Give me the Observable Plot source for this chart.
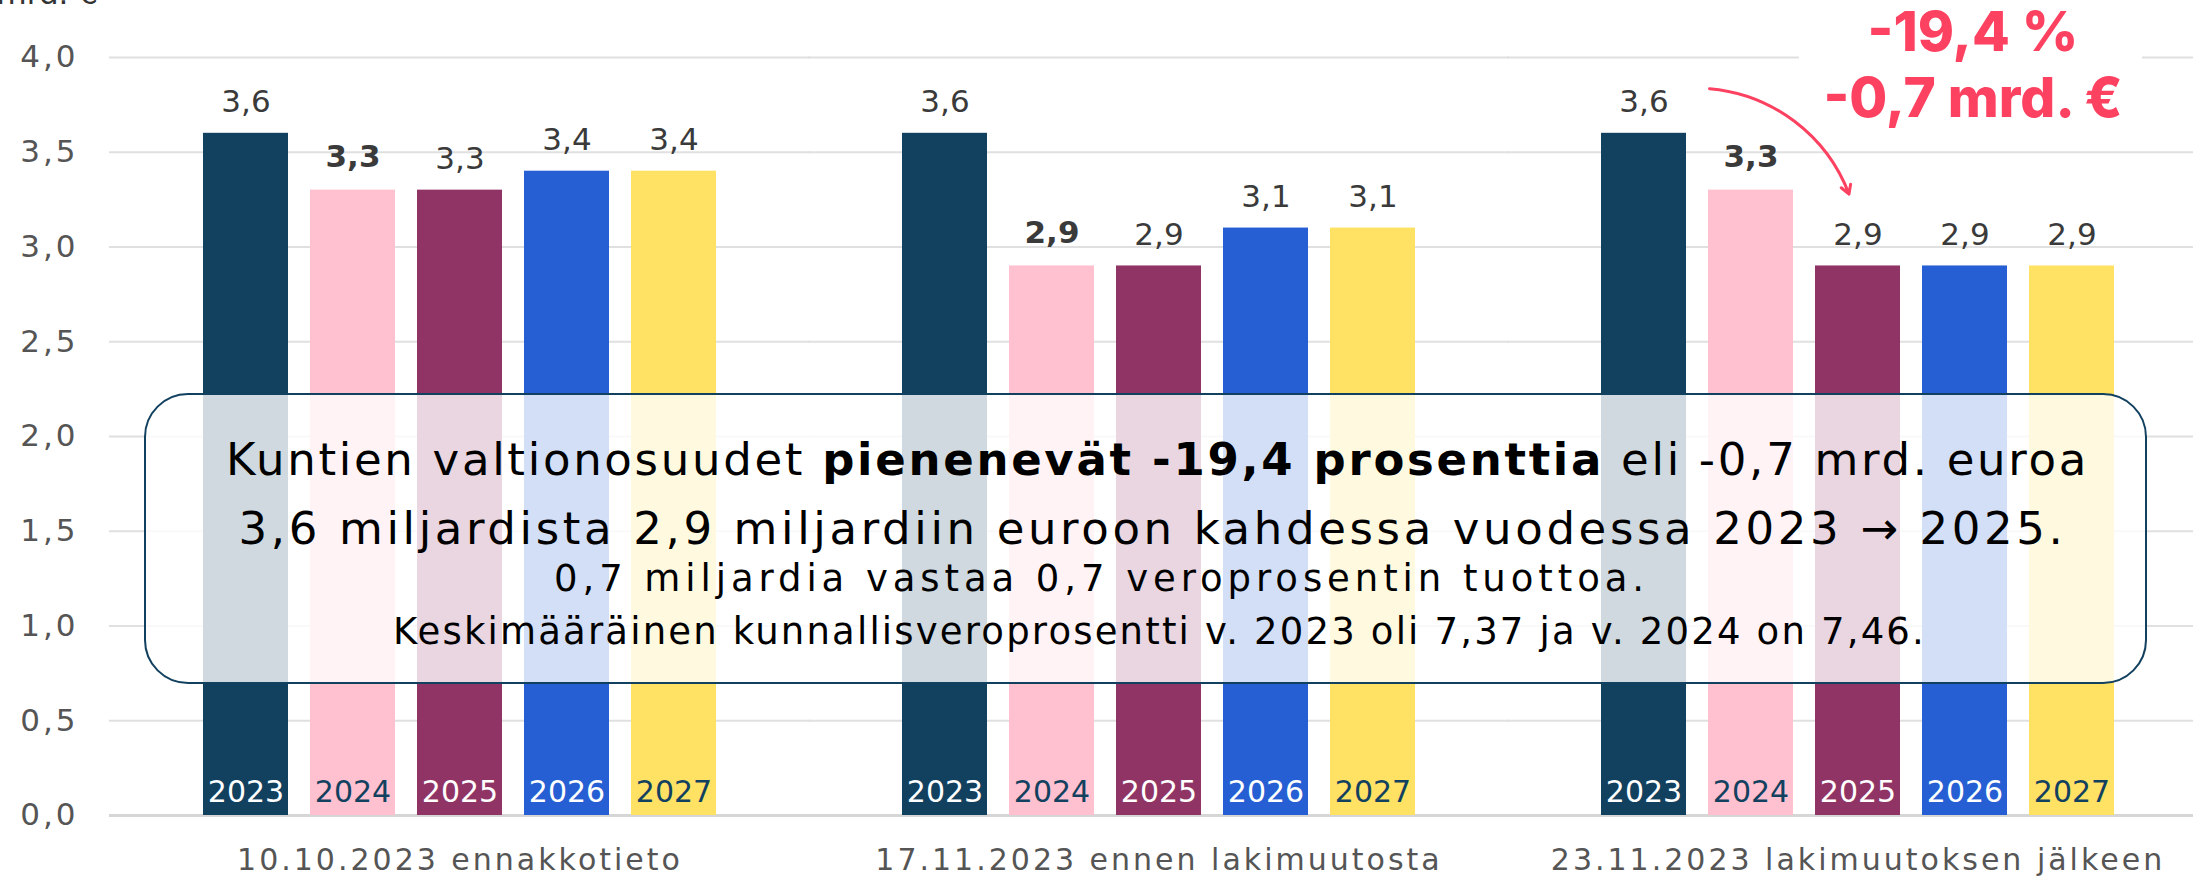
<!DOCTYPE html>
<html><head><meta charset="utf-8">
<script src="https://cdn.jsdelivr.net/npm/d3@7"></script>
<script src="https://cdn.jsdelivr.net/npm/@observablehq/plot@0.6"></script>
<style>
body{margin:0;background:#fff;}
#wrap{position:relative;width:2193px;height:880px;overflow:hidden;}
#box{position:absolute;left:144px;top:393px;width:2003px;height:291px;box-sizing:border-box;border:2.5px solid #12405f;border-radius:44px;background:rgba(255,255,255,0.8);font-family:"DejaVu Sans",sans-serif;color:#000;}
.ln{position:absolute;white-space:nowrap;line-height:1;transform:translate(-50%,-50%);}
g[aria-label="value label"] text, g[aria-label="y-axis tick label"] text{letter-spacing:3px;}
g[aria-label="fx-axis tick label"] text{letter-spacing:3px;}
</style></head><body><div id="wrap"></div>
<script>
const groups = ["10.10.2023 ennakkotieto","17.11.2023 ennen lakimuutosta","23.11.2023 lakimuutoksen jälkeen"];
const years = ["2023","2024","2025","2026","2027"];
const valuesEnnakko = [3.6,3.3,3.3,3.4,3.4];
const valuesEnnen = [3.6,2.9,2.9,3.1,3.1];
const valuesJalkeen = [3.6,3.3,2.9,2.9,2.9];
const yearColors = ["#12405f","#ffc0cf","#903465","#265fd3","#ffe264"];
const yTicks = [0,0.5,1,1.5,2,2.5,3,3.5,4];
const calloutLines = ["-19,4 %","-0,7 mrd. €"];
const unitLabel = "mrd. €";
const boxLines = [
  'Kuntien valtionosuudet <b>pienenevät -19,4 prosenttia</b> eli -0,7 mrd. euroa',
  '3,6 miljardista 2,9 miljardiin euroon kahdessa vuodessa 2023 → 2025.',
  '0,7 miljardia vastaa 0,7 veroprosentin tuottoa.',
  'Keskimääräinen kunnallisveroprosentti v. 2023 oli 7,37 ja v. 2024 on 7,46.'
];

const allValues = [valuesEnnakko, valuesEnnen, valuesJalkeen];
const rows = groups.flatMap((g,i)=> allValues[i].map((v,j)=>({group:g, year:years[j], value:v})));
const fmt = v => v.toFixed(1).replace(".", ",");
const lightYears = [years[1], years[4]];
const yMax = yTicks[yTicks.length - 1];
const arrowData = [{group: groups[2], from: years[0], to: years[2], fromValue: valuesJalkeen[0], toValue: valuesJalkeen[2]}];
const calloutData = [{group: groups[2], year: years[3], text: calloutLines.join("\n")}];
const unitData = [{group: groups[0], text: unitLabel}];
const numFont = "DejaVu Sans";
const red = "#fd4161";

const chart = Plot.plot({
  width: 2193, height: 880,
  marginTop: 57, marginBottom: 65, marginLeft: 108, marginRight: 0,
  style: {fontFamily: numFont, background: "transparent"},
  fx: {domain: groups, paddingInner: 0.2, paddingOuter: 0.0893, align: 0.564, label: null},
  x: {domain: years, padding: 0.21, axis: null},
  y: {domain: [0, yMax], axis: null},
  color: {domain: years, range: yearColors},
  marks: [
    Plot.ruleY(yTicks.filter(d => d > 0), {stroke: "#e0e0e0", strokeWidth: 2, insetLeft: -71, insetRight: -71}),
    Plot.ruleY([0], {stroke: "#d6d6d6", strokeWidth: 3, insetLeft: -71, insetRight: -71}),
    Plot.axisY({ticks: yTicks, tickSize: 0, tickPadding: 102, tickFormat: fmt, fontSize: 31, fill: "#555", label: null}),
    Plot.text(unitData, {fx: "group", text: "text", frameAnchor: "top-left", textAnchor: "start", lineAnchor: "bottom", dx: -184, dy: -54, fontSize: 31, fill: "#333"}),
    Plot.barY(rows, {fx: "group", x: "year", y: "value", fill: "year"}),
    Plot.text(rows.filter(d => d.year !== years[1]), {ariaLabel: "value label", fx: "group", x: "year", y: "value", text: d => fmt(d.value), dy: -31, fontSize: 31, fill: "#3a3a3a"}),
    Plot.text(rows.filter(d => d.year === years[1]), {fx: "group", x: "year", y: "value", text: d => fmt(d.value), dy: -33, fontSize: 31, fill: "#3a3a3a", fontWeight: "bold"}),
    Plot.text(rows.filter(d => !lightYears.includes(d.year)), {fx: "group", x: "year", text: "year", frameAnchor: "bottom", dy: -14, fontSize: 30, fill: "white"}),
    Plot.text(rows.filter(d => lightYears.includes(d.year)), {fx: "group", x: "year", text: "year", frameAnchor: "bottom", dy: -14, fontSize: 30, fill: "#12405f"}),
    Plot.arrow(arrowData, {fx: "group", x1: "from", y1: "fromValue", x2: "to", y2: "toValue", bend: 50, dy: -37, insetStart: 66, insetEnd: 36, stroke: red, strokeWidth: 3, headLength: 5}),
    Plot.tickY(calloutData, {fx: "group", x: "year", y: () => yMax, stroke: "white", strokeWidth: 6, insetLeft: -123, insetRight: -135}),
    Plot.text(calloutData, {fx: "group", x: "year", text: "text", frameAnchor: "top", lineAnchor: "middle", dx: 8, dy: 5, fontSize: 55, fontWeight: 800, fontFamily: "Inter", lineHeight: 1.2, fill: red}),
    Plot.axisFx({anchor: "bottom", tickSize: 0, tickPadding: 33, label: null, fontSize: 30, fill: "#555"})
  ]
});
const wrap = document.getElementById("wrap");
wrap.appendChild(chart);
const box = document.createElement("div");
box.id = "box";
wrap.appendChild(box);
const boxInnerLeft = 146.5;
const lineTops = [64, 133, 183, 236];
const lineSizes = [45, 45, 37, 37];
const lineCenters = [1158, 1153, 1102, 1160];
const lineWidths = [1863, 1828, 1095, 1533];
boxLines.forEach((html, i) => {
  const d = document.createElement("div");
  d.className = "ln";
  d.style.top = lineTops[i] + "px";
  d.style.left = (lineCenters[i] - boxInnerLeft) + "px";
  d.style.fontSize = lineSizes[i] + "px";
  d.innerHTML = html;
  box.appendChild(d);
  const w = d.getBoundingClientRect().width;
  const n = d.textContent.length;
  d.style.letterSpacing = ((lineWidths[i] - w) / n) + "px";
});
</script></body></html>
